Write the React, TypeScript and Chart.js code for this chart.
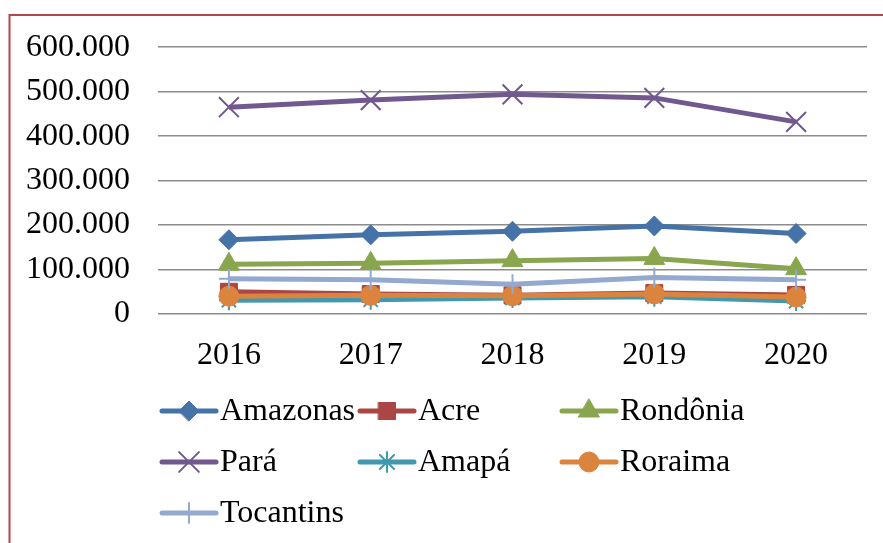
import React, { useEffect, useRef } from "react";
import { Chart, registerables } from "chart.js";
import { drawPoint } from "chart.js/helpers";

Chart.register(...registerables);

const years = ["2016", "2017", "2018", "2019", "2020"];
const amazonas = [167000, 178000, 186000, 198000, 181000];
const acre = [50000, 45000, 42000, 47000, 43000];
const rondonia = [112000, 114000, 120000, 125000, 102000];
const para = [465000, 481000, 494000, 486000, 432000];
const amapa = [31000, 32000, 36000, 39000, 29000];
const roraima = [40000, 42000, 41000, 45000, 38000];
const tocantins = [79000, 77000, 67000, 82000, 77000];

const seriesNames = ["Amazonas", "Acre", "Rondônia", "Pará", "Amapá", "Roraima", "Tocantins"];
const seriesValues = [amazonas, acre, rondonia, para, amapa, roraima, tocantins];
const seriesColors = ["#4572A7", "#AA4643", "#89A54E", "#71588F", "#4198AF", "#DB843D", "#93A9CF"];
const seriesStyles = ["rectRot", "rect", "triangle", "crossRot", "star", "circle", "cross"];
const seriesRadius = [10, 12, 12, 14, 10, 10, 10];

const FONT = "'Liberation Serif', 'Times New Roman', serif";

const fmt = (v: number) => String(v).replace(/\B(?=(\d{3})+(?!\d))/g, ".");

const frame = {
  id: "frame",
  beforeDraw(chart: any) {
    const ctx = chart.ctx;
    ctx.save();
    ctx.strokeStyle = "#b4474a";
    ctx.lineWidth = 2;
    ctx.strokeRect(9.5, 15, 1200, 1200);
    ctx.restore();
  },
};

const customLegend = {
  id: "customLegend",
  afterDraw(chart: any) {
    const ctx = chart.ctx;
    const colX = [160, 358, 560];
    const rowY = [411, 462, 513];
    ctx.save();
    seriesNames.forEach((name, i) => {
      const x = colX[i % 3];
      const y = rowY[Math.floor(i / 3)];
      const color = seriesColors[i];
      ctx.strokeStyle = color;
      ctx.fillStyle = color;
      ctx.lineWidth = 5;
      ctx.lineCap = "round";
      ctx.beginPath();
      ctx.moveTo(x + 2, y);
      ctx.lineTo(x + 56, y);
      ctx.stroke();
      const cross = seriesStyles[i] === "crossRot" || seriesStyles[i] === "star" || seriesStyles[i] === "cross";
      ctx.lineWidth = cross ? 2 : 1;
      drawPoint(ctx, { pointStyle: seriesStyles[i], radius: seriesRadius[i], rotation: 0, borderWidth: cross ? 2 : 1 } as any, x + 29, y);
      ctx.fillStyle = "#000";
      ctx.font = `32px ${FONT}`;
      ctx.textAlign = "left";
      ctx.textBaseline = "middle";
      ctx.fillText(name, x + 60, y + 1);
    });
    ctx.restore();
  },
};

export default function App() {
  const ref = useRef<HTMLCanvasElement | null>(null);
  useEffect(() => {
    if (!ref.current) return;
    const chart = new Chart(ref.current, {
      type: "line",
      data: {
        labels: years,
        datasets: seriesNames.map((name, i) => {
          const cross = ["crossRot", "star", "cross"].includes(seriesStyles[i]);
          return {
            label: name,
            data: seriesValues[i],
            borderColor: seriesColors[i],
            backgroundColor: seriesColors[i],
            pointBackgroundColor: seriesColors[i],
            pointBorderColor: seriesColors[i],
            pointStyle: seriesStyles[i] as any,
            pointRadius: seriesRadius[i],
            pointBorderWidth: cross ? 2 : 1,
            borderWidth: 5,
            tension: 0,
            order: seriesNames.length - i,
          };
        }),
      },
      options: {
        animation: false,
        responsive: false,
        layout: { padding: { top: 45, right: 15, bottom: 169, left: 0 } },
        plugins: { legend: { display: false }, tooltip: { enabled: false } },
        scales: {
          x: {
            offset: true,
            grid: { display: false, drawTicks: false },
            border: { display: false },
            ticks: { color: "#000", font: { family: FONT, size: 32 }, padding: 22 },
            afterFit: (s: any) => {
              s.height = 60;
            },
          },
          y: {
            min: 0,
            max: 600000,
            grid: { color: "#8c8c8c", lineWidth: 1.5, drawTicks: false },
            border: { display: false },
            ticks: {
              stepSize: 100000,
              color: "#000",
              font: { family: FONT, size: 32 },
              padding: 28,
              callback: (v: any) => fmt(Number(v)),
            },
            afterFit: (s: any) => {
              s.width = 158;
            },
          },
        },
      },
      plugins: [frame, customLegend],
    });
    return () => chart.destroy();
  }, []);
  return (
    <div style={{ position: "absolute", left: 0, top: 0, width: 883, height: 543 }}>
      <canvas ref={ref} width={883} height={543} style={{ width: 883, height: 543, display: "block" }} />
    </div>
  );
}
